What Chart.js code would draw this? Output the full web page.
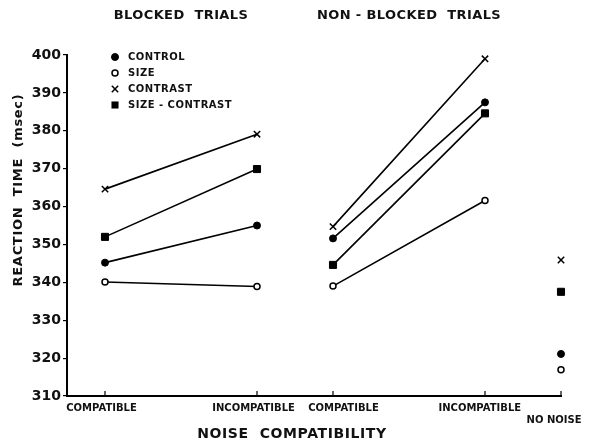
<!DOCTYPE html>
<html>
<head>
<meta charset="utf-8">
<script src="https://cdn.jsdelivr.net/npm/chart.js@4/dist/chart.umd.min.js"></script>
<style>
  html, body { margin: 0; padding: 0; background: #fff; }
  #wrap { width: 593px; height: 442px; }
</style>
</head>
<body>
<div id="wrap"><canvas id="rtChart" width="593" height="442"></canvas></div>
<script>
// noise conditions, placed along the x axis
const conditionPos = [0, 2, 3, 5, 6];
const conditionLabels = ['COMPATIBLE  ', 'INCOMPATIBLE  ', '      COMPATIBLE', 'INCOMPATIBLE   ', 'NO NOISE    '];
const groupLabels = ['BLOCKED  TRIALS', 'NON - BLOCKED  TRIALS'];

// reaction time (msec) per condition
const controlRT      = [345.2, 355.0, 351.6, 387.5, 321.1];
const sizeRT         = [340.1, 338.9, 339.0, 361.6, 316.9];
const contrastRT     = [364.6, 379.1, 354.7, 399.0, 345.9];
const sizeContrastRT = [352.0, 369.9, 344.6, 384.6, 337.5];

const seriesNames = ['CONTROL', 'SIZE', 'CONTRAST', 'SIZE - CONTRAST'];
const yTicks = [310, 320, 330, 340, 350, 360, 370, 380, 390, 400];

const FONT = '"DejaVu Sans", sans-serif';

// breaks between blocked / non-blocked / no-noise so lines don't connect across
function toPoints(vals) {
    const pts = [];
    conditionPos.forEach((x, i) => {
        pts.push({ x: x, y: vals[i] });
        if (i === 1 || i === 3) pts.push({ x: x + 0.5, y: null });
    });
    return pts;
}

const markerStyles = [
    { pointStyle: 'circle',   pointRadius: 3.5, pointBackgroundColor: '#000', pointBorderWidth: 1 },
    { pointStyle: 'circle',   pointRadius: 3,   pointBackgroundColor: '#fff', pointBorderWidth: 1.5 },
    { pointStyle: 'crossRot', pointRadius: 4.5, pointBackgroundColor: '#000', pointBorderWidth: 1.5 },
    { pointStyle: 'rect',     pointRadius: 5,   pointBackgroundColor: '#000', pointBorderWidth: 1 }
];

const datasets = [controlRT, sizeRT, contrastRT, sizeContrastRT].map((vals, i) => Object.assign({
    label: seriesNames[i],
    data: toPoints(vals),
    borderColor: '#000',
    borderWidth: 1.6,
    pointBorderColor: '#000',
    spanGaps: false,
    tension: 0,
    clip: false
}, markerStyles[i]));

function drawMarker(ctx, style, x, y) {
    const r = style.pointRadius;
    ctx.save();
    ctx.strokeStyle = '#000';
    ctx.fillStyle = style.pointBackgroundColor;
    ctx.lineWidth = style.pointBorderWidth;
    ctx.beginPath();
    if (style.pointStyle === 'circle') {
        ctx.arc(x, y, r, 0, Math.PI * 2);
        ctx.fill();
        ctx.stroke();
    } else if (style.pointStyle === 'rect') {
        const s = r * Math.SQRT1_2;
        ctx.rect(x - s, y - s, 2 * s, 2 * s);
        ctx.fill();
    } else {
        const s = r * Math.SQRT1_2;
        ctx.moveTo(x - s, y - s); ctx.lineTo(x + s, y + s);
        ctx.moveTo(x - s, y + s); ctx.lineTo(x + s, y - s);
        ctx.stroke();
    }
    ctx.restore();
}

const decorPlugin = {
    id: 'decor',
    afterDraw(chart) {
        const ctx = chart.ctx;
        const xs = chart.scales.x;
        const area = chart.chartArea;
        ctx.save();
        ctx.fillStyle = '#111';
        ctx.textBaseline = 'middle';
        ctx.textAlign = 'center';
        ctx.letterSpacing = '0.4px';

        // group headers over each pair of conditions
        ctx.font = 'bold 13px ' + FONT;
        ctx.fillText(groupLabels[0], xs.getPixelForValue(1), 16);
        ctx.fillText(groupLabels[1], xs.getPixelForValue(4), 16);

        // x axis title
        ctx.letterSpacing = '0.6px';
        ctx.font = 'bold 14px ' + FONT;
        ctx.fillText('NOISE  COMPATIBILITY', 292, 434);

        // y axis title
        ctx.save();
        ctx.translate(19, 190);
        ctx.rotate(-Math.PI / 2);
        ctx.letterSpacing = '0.7px';
        ctx.font = 'bold 13px ' + FONT;
        ctx.fillText('REACTION  TIME  (msec)', 0, 0);
        ctx.restore();

        // legend
        ctx.letterSpacing = '0.5px';
        ctx.textAlign = 'left';
        ctx.font = 'bold 10px ' + FONT;
        const rows = [57, 73, 89, 105];
        seriesNames.forEach((name, i) => {
            drawMarker(ctx, markerStyles[i], 115, rows[i]);
            ctx.fillText(name, 128, rows[i] + 0.5);
        });

        // small upward ticks on the x axis
        ctx.strokeStyle = '#000';
        ctx.lineWidth = 1.2;
        conditionPos.forEach(v => {
            const px = xs.getPixelForValue(v);
            ctx.beginPath();
            ctx.moveTo(px, area.bottom);
            ctx.lineTo(px, area.bottom - 5);
            ctx.stroke();
        });
        ctx.restore();
    }
};

new Chart(document.getElementById('rtChart').getContext('2d'), {
    type: 'line',
    data: { datasets },
    options: {
        responsive: false,
        animation: false,
        devicePixelRatio: 1,
        layout: { autoPadding: false, padding: { top: 55, right: 32, left: 0, bottom: 0 } },
        plugins: {
            legend: { display: false },
            tooltip: { enabled: false }
        },
        scales: {
            x: {
                type: 'linear',
                min: -0.5,
                max: 6,
                afterFit(scale) {
                    scale.height = 46;
                    scale.paddingLeft = 0;
                    scale.paddingRight = 0;
                },
                afterBuildTicks(scale) {
                    scale.ticks = conditionPos.map(v => ({ value: v }));
                },
                grid: { display: false, drawTicks: false },
                border: { display: true, color: '#000', width: 2 },
                ticks: {
                    padding: 6,
                    autoSkip: false,
                    maxRotation: 0,
                    color: '#111',
                    font: { family: FONT, size: 10, weight: 'bold' },
                    callback(value) {
                        const i = conditionPos.indexOf(value);
                        if (i < 0) return '';
                        return i === 4 ? ['', conditionLabels[i]] : conditionLabels[i];
                    }
                }
            },
            y: {
                min: 310,
                max: 400,
                afterFit(scale) {
                    scale.width = 67;
                    scale.paddingTop = 0;
                    scale.paddingBottom = 0;
                },
                afterBuildTicks(scale) {
                    scale.ticks = yTicks.map(v => ({ value: v }));
                },
                grid: { drawOnChartArea: false, drawTicks: true, tickLength: 4, color: '#000', lineWidth: 1.2 },
                border: { display: true, color: '#000', width: 2 },
                ticks: {
                    padding: 2,
                    color: '#111',
                    font: { family: FONT, size: 14, weight: 'bold' }
                }
            }
        }
    },
    plugins: [decorPlugin]
});
</script>
</body>
</html>
